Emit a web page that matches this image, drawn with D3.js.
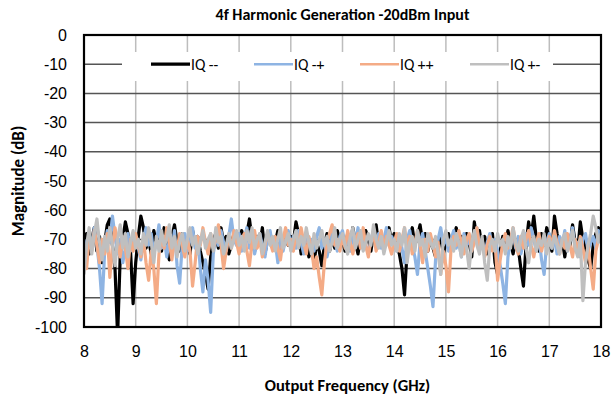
<!DOCTYPE html>
<html><head><meta charset="utf-8">
<script src="https://cdn.jsdelivr.net/npm/d3@7"></script>
<style>body{margin:0;background:#fff}svg{display:block;font-family:Carlito,Lato,"Open Sans",sans-serif}</style>
</head><body><svg id="c" width="613" height="402"></svg>
<script>
const title = "4f Harmonic Generation -20dBm Input";
const xTitle = "Output Frequency (GHz)";
const yTitle = "Magnitude (dB)";
const xTicks = [8,9,10,11,12,13,14,15,16,17,18];
const yTicks = [0,-10,-20,-30,-40,-50,-60,-70,-80,-90,-100];
const freqStart = 8, freqStep = 0.05;
const seriesNames = ["IQ --","IQ -+","IQ ++","IQ +-"];
const seriesColors = ["#000000","#8EB4E3","#F4AB86","#BFBFBF"];

const iqMM = [-72,-68,-75,-70,-66,-74,-69,-78,-71,-65,-63,-72,-80,-103,-76,-70,-64,-68,-74,-92,
-78,-69,-62,-66,-73,-70,-75,-67,-71,-68,-74,-66,-72,-77,-69,-65,-71,-74,-68,-72,
-70,-75,-67,-72,-69,-74,-78,-82,-87,-76,-70,-68,-73,-66,-71,-69,-75,-72,-68,-70,
-73,-67,-71,-68,-63,-70,-74,-69,-72,-66,-75,-70,-68,-73,-71,-67,-74,-70,-69,-72,
-69,-71,-64,-68,-75,-72,-70,-76,-73,-78,-71,-74,-79,-72,-68,-74,-70,-73,-67,-71,
-70,-74,-68,-72,-66,-71,-75,-69,-73,-67,-70,-74,-68,-65,-72,-69,-73,-70,-66,-71,
-68,-72,-75,-80,-89,-74,-70,-66,-72,-69,-65,-71,-68,-74,-70,-73,-76,-72,-69,-75,
-71,-68,-73,-70,-66,-72,-69,-74,-68,-71,-76,-64,-70,-67,-73,-69,-75,-71,-68,-78,
-82,-74,-69,-72,-67,-71,-75,-70,-73,-80,-86,-72,-64,-69,-62,-70,-74,-68,-72,-66,
-70,-74,-62,-68,-73,-70,-76,-69,-72,-65,-71,-74,-64,-70,-73,-77,-80,-72,-68,-66,-67];
const iqMP = [-70,-76,-68,-73,-66,-72,-80,-92,-74,-67,-71,-62,-69,-75,-70,-78,-73,-68,-74,-71,
-69,-73,-77,-70,-66,-72,-68,-75,-71,-65,-73,-69,-76,-70,-74,-67,-79,-85,-72,-68,
-74,-70,-66,-73,-69,-80,-88,-77,-84,-95,-75,-69,-72,-67,-71,-74,-69,-63,-70,-72,
-68,-74,-70,-66,-73,-69,-75,-71,-68,-72,-76,-70,-67,-73,-71,-78,-69,-74,-70,-67,
-72,-69,-73,-67,-71,-75,-68,-72,-70,-74,-69,-66,-73,-70,-76,-72,-68,-71,-74,-69,
-67,-72,-70,-74,-68,-71,-66,-73,-69,-72,-75,-70,-67,-71,-68,-73,-70,-66,-72,-69,
-71,-74,-69,-73,-78,-70,-67,-72,-76,-82,-71,-68,-74,-80,-86,-93,-77,-70,-66,-72,
-69,-74,-70,-67,-73,-71,-76,-68,-72,-70,-74,-69,-66,-72,-70,-75,-71,-68,-73,-70,
-74,-79,-85,-92,-76,-70,-67,-73,-69,-75,-71,-68,-72,-66,-70,-74,-69,-77,-82,-71,
-68,-73,-70,-75,-69,-72,-67,-74,-70,-66,-73,-71,-76,-70,-68,-74,-71,-69,-73,-67,-70];
const iqPP = [-73,-80,-69,-74,-67,-72,-78,-70,-75,-68,-83,-72,-66,-71,-76,-69,-73,-80,-70,-74,
-68,-72,-76,-70,-78,-84,-74,-80,-92,-75,-69,-73,-66,-71,-77,-70,-74,-68,-72,-76,
-70,-74,-86,-78,-69,-72,-66,-71,-75,-68,-73,-70,-65,-72,-80,-74,-69,-73,-67,-71,
-75,-70,-68,-74,-79,-71,-67,-73,-70,-76,-72,-68,-71,-74,-69,-73,-77,-70,-66,-72,
-70,-74,-68,-72,-66,-71,-75,-69,-73,-80,-76,-83,-89,-78,-71,-68,-65,-72,-70,-74,
-69,-73,-67,-71,-75,-70,-68,-73,-66,-72,-76,-70,-68,-74,-71,-67,-73,-69,-72,-75,
-71,-68,-74,-70,-66,-73,-69,-75,-71,-67,-72,-78,-70,-74,-68,-72,-76,-71,-82,-74,
-79,-88,-73,-69,-72,-67,-71,-75,-70,-68,-74,-71,-66,-73,-70,-76,-72,-69,-74,-71,
-84,-77,-71,-68,-73,-70,-66,-72,-75,-69,-73,-70,-67,-72,-76,-71,-68,-74,-70,-73,
-69,-72,-67,-71,-75,-70,-73,-68,-72,-76,-70,-74,-69,-73,-78,-72,-80,-87,-74,-70,-69];
const iqPM = [-82,-72,-66,-75,-68,-63,-71,-77,-69,-74,-66,-72,-79,-70,-65,-73,-68,-76,-71,-67,
-73,-70,-75,-68,-72,-66,-71,-78,-69,-74,-67,-72,-70,-65,-73,-69,-76,-71,-68,-74,
-70,-66,-72,-69,-75,-71,-67,-73,-70,-68,-74,-66,-71,-69,-75,-72,-68,-73,-70,-67,
-72,-69,-74,-67,-71,-66,-73,-70,-68,-75,-71,-67,-72,-69,-74,-70,-66,-73,-71,-68,
-74,-70,-67,-73,-69,-72,-66,-71,-75,-68,-73,-70,-67,-72,-69,-74,-71,-66,-73,-70,
-68,-72,-75,-69,-66,-73,-70,-67,-74,-71,-68,-72,-65,-70,-73,-69,-75,-71,-67,-72,
-70,-74,-68,-72,-66,-78,-71,-69,-74,-67,-72,-70,-76,-68,-71,-73,-69,-75,-82,-70,
-67,-72,-70,-74,-68,-71,-76,-69,-73,-80,-71,-67,-72,-75,-69,-78,-84,-72,-70,-74,
-68,-72,-70,-75,-69,-73,-66,-71,-74,-70,-67,-73,-78,-71,-69,-74,-70,-72,-68,-75,
-70,-73,-69,-72,-75,-70,-68,-74,-71,-67,-73,-76,-70,-91,-78,-72,-68,-62,-66,-71,-68];
const seriesValues = [iqMM, iqMP, iqPP, iqPM];

const L = 84, R = 601, T = 35, B = 327;
const svg = d3.select("#c");
const x = d3.scaleLinear().domain([8,18]).range([L,R]);
const y = d3.scaleLinear().domain([-100,0]).range([B,T]);

svg.append("g").selectAll("line").data(xTicks.slice(1,-1)).join("line")
  .attr("x1",d=>x(d)).attr("x2",d=>x(d)).attr("y1",T).attr("y2",B)
  .attr("stroke","#BDBDBD").attr("stroke-width",1.5);
svg.append("g").selectAll("line").data(yTicks.slice(1,-1)).join("line")
  .attr("x1",L).attr("x2",R).attr("y1",d=>y(d)).attr("y2",d=>y(d))
  .attr("stroke","#555").attr("stroke-width",1.5);

svg.append("clipPath").attr("id","clip").append("rect")
  .attr("x",L).attr("y",T).attr("width",R-L).attr("height",B-T);

const line = d3.line().x((d,i)=>x(freqStart+i*freqStep)).y(d=>y(d));
const gl = svg.append("g").attr("clip-path","url(#clip)");
seriesValues.forEach((vals,k)=>{
  gl.append("path").datum(vals).attr("d",line).attr("fill","none")
    .attr("stroke",seriesColors[k]).attr("stroke-width",3.2).attr("stroke-linejoin","round");
});

const lg = svg.append("g");
lg.append("rect").attr("x",122).attr("y",52).attr("width",431).attr("height",29).attr("fill","#fff");
const legX = [151,254,360,470];
seriesNames.forEach((n,k)=>{
  lg.append("line").attr("x1",legX[k]).attr("x2",legX[k]+39).attr("y1",y(-10)).attr("y2",y(-10))
    .attr("stroke",seriesColors[k]).attr("stroke-width",k===0?3.2:2.6);
  lg.append("text").attr("x",legX[k]+40).attr("y",y(-10)+5.5).attr("font-size",15.5).text(n);
});

svg.append("rect").attr("x",L).attr("y",T).attr("width",R-L).attr("height",B-T)
  .attr("fill","none").attr("stroke","#000").attr("stroke-width",2.2);

const fmt = d => String(d);
const xa = svg.append("g").attr("transform",`translate(0,${B})`)
  .call(d3.axisBottom(x).tickValues(xTicks).tickSize(0).tickPadding(19).tickFormat(fmt));
xa.select(".domain").remove();
xa.selectAll("text").attr("font-size",16).attr("fill","#000").style("font-family","inherit");
const ya = svg.append("g").attr("transform",`translate(${L},0)`)
  .call(d3.axisLeft(y).tickValues(yTicks).tickSize(0).tickPadding(17).tickFormat(fmt));
ya.select(".domain").remove();
ya.selectAll("text").attr("font-size",16).attr("fill","#000").style("font-family","inherit");

svg.append("text").attr("x",(L+R)/2).attr("y",20).attr("text-anchor","middle")
  .attr("font-size",16).attr("font-weight","bold").text(title);
svg.append("text").attr("x",(L+R)/2+5).attr("y",391).attr("text-anchor","middle")
  .attr("font-size",16.5).attr("font-weight","bold").text(xTitle);
svg.append("text").attr("transform",`translate(24,${(T+B)/2}) rotate(-90)`).attr("text-anchor","middle")
  .attr("font-size",17).attr("font-weight","bold").text(yTitle);
</script></body></html>
